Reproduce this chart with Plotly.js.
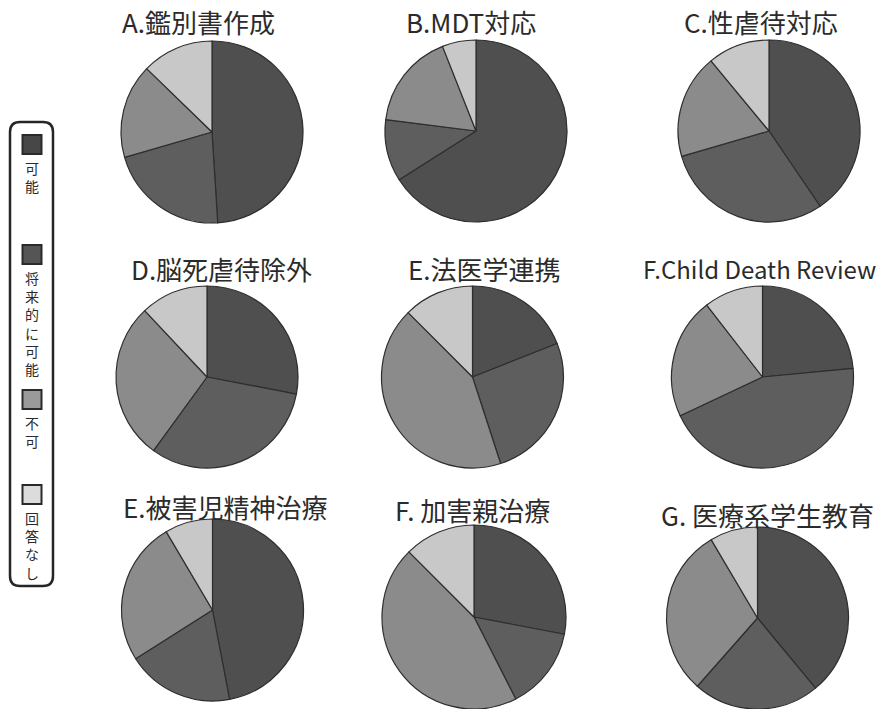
<!DOCTYPE html>
<html>
<head>
<meta charset="utf-8">
<script src="https://cdn.plot.ly/plotly-3.0.1.min.js"></script>
<style>
  html, body { margin: 0; padding: 0; background: #ffffff; }
  #chart { width: 880px; height: 709px; }
</style>
</head>
<body>
<div id="chart"></div>
<script>
// Response categories (shared by every pie)
const categories = ['可能', '将来的に可能', '不可', '回答なし'];

// Panel titles
const titles = [
  'A.鑑別書作成', 'B.MDT対応', 'C.性虐待対応',
  'D.脳死虐待除外', 'E.法医学連携', 'F.Child Death Review',
  'E.被害児精神治療', 'F. 加害親治療', 'G. 医療系学生教育'
];

// Share of answers (%) per panel, in category order
const valuesA = [49, 21.5, 16.75, 12.75];
const valuesB = [66, 11, 17, 6];
const valuesC = [40.5, 30, 18.5, 11];
const valuesD = [28, 32, 28, 12];
const valuesE = [19, 26, 42.5, 12.5];
const valuesF = [23.5, 44.5, 21.5, 10.5];
const valuesE2 = [47, 19, 25.5, 8.5];
const valuesF2 = [28, 14.5, 45, 12.5];
const valuesG = [39, 22.5, 30, 8.5];

const panelValues = [valuesA, valuesB, valuesC, valuesD, valuesE, valuesF, valuesE2, valuesF2, valuesG];

// ---- layout / style settings ----
const W = 880, H = 709;
const sliceColors = ['#4f4f4f', '#5e5e5e', '#8b8b8b', '#c8c8c8'];
const legendFill = ['#474747', '#555555', '#9a9a9a', '#dcdcdc'];
const edgeColor = '#2e2e2e';
const textColor = '#2b2b2b';
const font = '"Noto Sans CJK JP", "Noto Sans", sans-serif';

// pie centres and radii in pixels
const pieCenters = [
  [212, 132], [476, 131], [769, 131],
  [207, 377], [472.5, 377], [762.5, 377],
  [212.5, 610], [474, 617], [757.5, 618]
];
const pieRadii = [91, 91, 91, 91, 91, 91, 91, 92, 91];

// title centres in pixels
const titleCenters = [
  [198.5, 22], [471, 22], [761, 22],
  [221, 268], [484.5, 268], [759, 268],
  [225, 506], [472.5, 509], [767, 514]
];
const titleSizes = [26, 26, 26, 26, 26, 24, 26, 26, 26];

const px = x => x / W;
const py = y => 1 - y / H;

const traces = panelValues.map((vals, i) => {
  const [cx, cy] = pieCenters[i];
  const r = pieRadii[i];
  return {
    type: 'pie',
    labels: categories,
    values: vals,
    sort: false,
    direction: 'clockwise',
    rotation: 0,
    textinfo: 'none',
    hoverinfo: 'label+percent',
    showlegend: false,
    marker: { colors: sliceColors, line: { color: edgeColor, width: 1.2 } },
    domain: { x: [px(cx - r), px(cx + r)], y: [py(cy + r), py(cy - r)] }
  };
});

const annotations = titles.map((t, i) => ({
  text: t,
  xref: 'paper', yref: 'paper',
  x: px(titleCenters[i][0]), y: py(titleCenters[i][1]),
  xanchor: 'center', yanchor: 'middle',
  showarrow: false,
  font: { family: font, size: titleSizes[i], color: textColor }
}));

// ---- vertical legend box on the left ----
const box = { x0: 10, x1: 53, y0: 122, y1: 586, r: 10 };
const shapes = [];
(function roundedBox() {
  const { x0, x1, y0, y1, r } = box;
  const rx = r / W, ry = r / H;
  const X0 = px(x0), X1 = px(x1), Yt = py(y0), Yb = py(y1);
  const path = `M ${X0 + rx} ${Yt} L ${X1 - rx} ${Yt} Q ${X1} ${Yt} ${X1} ${Yt - ry} ` +
    `L ${X1} ${Yb + ry} Q ${X1} ${Yb} ${X1 - rx} ${Yb} L ${X0 + rx} ${Yb} ` +
    `Q ${X0} ${Yb} ${X0} ${Yb + ry} L ${X0} ${Yt - ry} Q ${X0} ${Yt} ${X0 + rx} ${Yt} Z`;
  shapes.push({
    type: 'path', xref: 'paper', yref: 'paper', path: path,
    line: { color: '#262626', width: 2.5 }, fillcolor: 'rgba(0,0,0,0)'
  });
})();

const legendSquareTop = [135, 245, 390, 485];
const sq = 19, sqX = 22.5, charSize = 14;
categories.forEach((label, i) => {
  const top = legendSquareTop[i];
  shapes.push({
    type: 'rect', xref: 'paper', yref: 'paper',
    x0: px(sqX), x1: px(sqX + sq), y0: py(top + sq), y1: py(top),
    line: { color: '#2a2a2a', width: 2 }, fillcolor: legendFill[i]
  });
  // label written top-to-bottom, one character per line
  annotations.push({
    text: Array.from(label).join('<br>'),
    xref: 'paper', yref: 'paper',
    x: px(sqX + sq / 2), y: py(top + sq + 2),
    xanchor: 'center', yanchor: 'top', showarrow: false,
    font: { family: font, size: charSize, color: textColor }
  });
});

const layout = {
  width: W, height: H,
  margin: { l: 0, r: 0, t: 0, b: 0 },
  paper_bgcolor: '#ffffff',
  plot_bgcolor: '#ffffff',
  showlegend: false,
  annotations: annotations,
  shapes: shapes,
  font: { family: font }
};

Plotly.newPlot('chart', traces, layout, { displayModeBar: false, staticPlot: true });
</script>
</body>
</html>
